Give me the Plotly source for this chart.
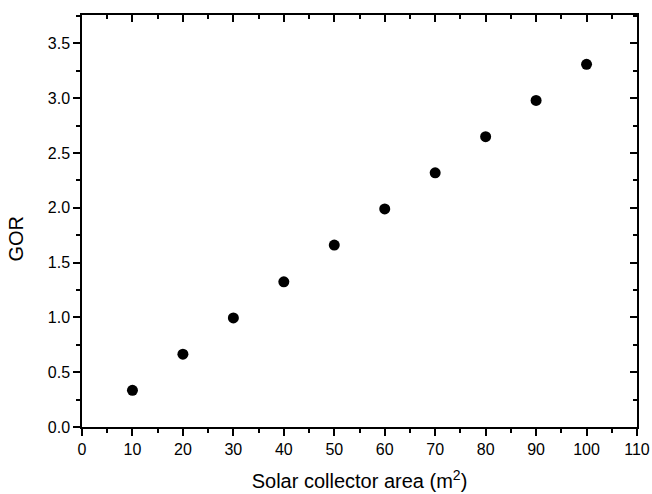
import plotly.graph_objects as go

# solar collector area (m2) vs GOR
area = [10, 20, 30, 40, 50, 60, 70, 80, 90, 100]
gor = [0.335, 0.665, 0.995, 1.325, 1.66, 1.99, 2.32, 2.65, 2.98, 3.31]

x_range = [0, 110]
y_range = [0, 3.76]

fig = go.Figure()
fig.add_trace(go.Scatter(x=area, y=gor, mode="markers",
                         marker=dict(color="black", size=11),
                         showlegend=False))

font = dict(family="Liberation Sans, Arial, sans-serif", color="black")

axis_common = dict(showline=True, linecolor="black", linewidth=1.5,
                   showgrid=False, zeroline=False, automargin=False,
                   tickcolor="black", tickwidth=1.5, ticklen=7)

fig.update_layout(
    width=652, height=494,
    margin=dict(l=82, r=15, t=15, b=67),
    plot_bgcolor="white", paper_bgcolor="white",
    font=font,
    xaxis=dict(range=x_range, dtick=10, ticks="outside",
               tickfont=dict(size=16),
               minor=dict(dtick=5, ticks="outside", ticklen=4, tickwidth=1.5,
                          tickcolor="black"),
               title=dict(text="Solar collector area (m<sup>2</sup>)",
                          font=dict(size=20), standoff=17),
               **axis_common),
    yaxis=dict(range=y_range, dtick=0.5, tickformat=".1f", ticks="outside",
               tickfont=dict(size=16),
               minor=dict(dtick=0.25, ticks="outside", ticklen=4, tickwidth=1.5,
                          tickcolor="black"),
               **axis_common),
    xaxis2=dict(range=x_range, dtick=10, overlaying="x", side="top",
                ticks="inside", showticklabels=False,
                minor=dict(dtick=5, ticks="inside", ticklen=4, tickwidth=1.5,
                           tickcolor="black"),
                **axis_common),
    yaxis2=dict(range=y_range, dtick=0.5, overlaying="y", side="right",
                ticks="inside", showticklabels=False,
                minor=dict(dtick=0.25, ticks="inside", ticklen=4, tickwidth=1.5,
                           tickcolor="black"),
                **axis_common),
)

# mirrored frame axes (top/right), inner ticks
fig.add_trace(go.Scatter(x=area, y=gor, xaxis="x2", yaxis="y2", mode="markers",
                         marker=dict(opacity=0), hoverinfo="skip",
                         showlegend=False))

fig.add_annotation(text="GOR", textangle=-90, xref="paper", yref="y",
                   x=0, y=1.72, xshift=-66, xanchor="center", yanchor="middle",
                   showarrow=False, font=dict(size=20))

# drop the default 8px body margin so the figure sits at 0,0
fig.write_html("out.html", config={"displayModeBar": False},
               post_script="document.body.style.margin='0';")
